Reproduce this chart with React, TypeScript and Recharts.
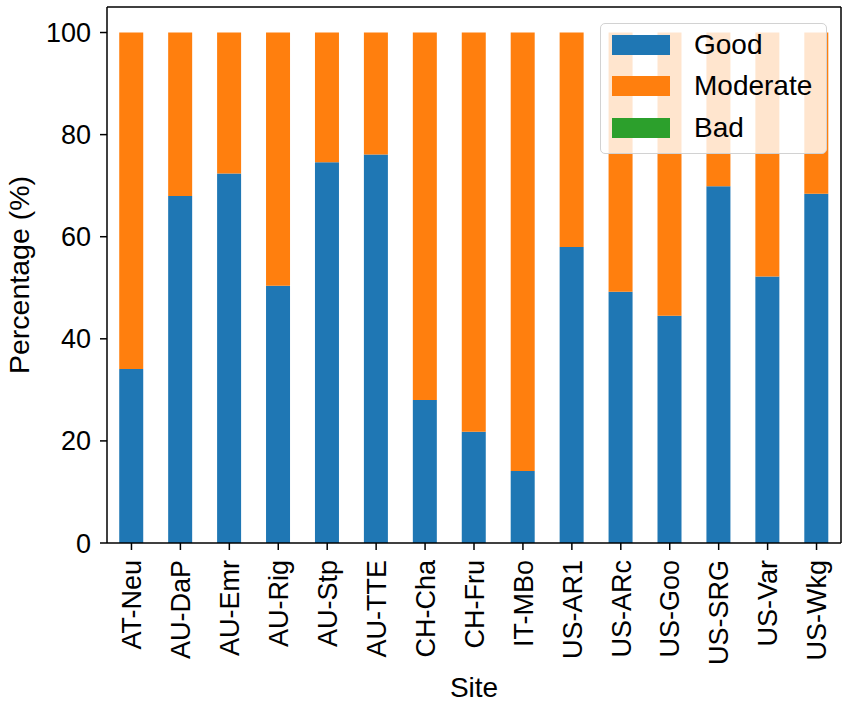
import { Bar, BarChart, Legend, XAxis, YAxis } from "recharts";

const sites = [
  "AT-Neu", "AU-DaP", "AU-Emr", "AU-Rig", "AU-Stp", "AU-TTE", "CH-Cha", "CH-Fru",
  "IT-MBo", "US-AR1", "US-ARc", "US-Goo", "US-SRG", "US-Var", "US-Wkg",
];
const good = [34.1, 68.0, 72.4, 50.4, 74.6, 76.1, 28.0, 21.8, 14.1, 58.0, 49.2, 44.5, 69.9, 52.2, 68.4];
const moderate = [65.9, 32.0, 27.6, 49.6, 25.4, 23.9, 72.0, 78.2, 85.9, 42.0, 50.8, 55.5, 30.1, 47.8, 31.6];
const bad = [0, 0, 0, 0, 0, 0, 0, 0, 0, 0, 0, 0, 0, 0, 0];
const yTicks = [0, 20, 40, 60, 80, 100];
const seriesOrder = ["Good", "Moderate", "Bad"];

const data = sites.map((site, i) => ({ site, Good: good[i], Moderate: moderate[i], Bad: bad[i] }));

const FONT = '"Liberation Sans", Arial, sans-serif';
const axisLine = { stroke: "#000", strokeWidth: 1.5 };

function SiteTick({ x, y, payload }: any) {
  return (
    <g transform={`translate(${x},${y})`}>
      <text
        transform="rotate(-90)"
        x={-6}
        dy="0.36em"
        textAnchor="end"
        fontSize={27}
        fontFamily={FONT}
        fill="#000"
      >
        {payload.value}
      </text>
    </g>
  );
}

function LegendBox({ payload }: any) {
  const items = [...(payload || [])].sort(
    (a: any, b: any) => seriesOrder.indexOf(a.value) - seriesOrder.indexOf(b.value)
  );
  return (
    <div
      style={{
        background: "rgba(255,255,255,0.8)",
        border: "1.5px solid #d2d2d2",
        borderRadius: 5,
        boxSizing: "border-box",
        width: 227,
        height: 131,
        fontFamily: FONT,
      }}
    >
      {items.map((entry: any) => (
        <div key={entry.value} style={{ display: "flex", alignItems: "center", height: 41.5 }}>
          <span
            style={{ width: 58, height: 20, background: entry.color, marginLeft: 11, marginRight: 24 }}
          />
          <span style={{ fontSize: 28, color: "#000" }}>{entry.value}</span>
        </div>
      ))}
    </div>
  );
}

export default function App() {
  return (
    <div style={{ position: "absolute", left: 0, top: 0, width: 851, height: 707, background: "#fff" }}>
      <BarChart
        width={851}
        height={707}
        data={data}
        margin={{ top: 6, right: 9, left: 0, bottom: 0 }}
        barCategoryGap="25%"
        style={{ fontFamily: FONT }}
      >
        <XAxis
          dataKey="site"
          height={164}
          axisLine={axisLine}
          tickLine={axisLine}
          tickSize={7}
          tickMargin={4}
          interval={0}
          tick={<SiteTick />}
          label={{
            content: ({ viewBox }: any) => (
              <text
                x={viewBox.x + viewBox.width / 2}
                y={697}
                textAnchor="middle"
                fontSize={28}
                fontFamily={FONT}
                fill="#000"
              >
                Site
              </text>
            ),
          }}
        />
        <XAxis
          xAxisId="top"
          orientation="top"
          dataKey="site"
          height={1}
          tick={false}
          tickLine={false}
          axisLine={axisLine}
        />
        <YAxis
          width={107}
          domain={[0, 105]}
          ticks={yTicks}
          axisLine={axisLine}
          tickLine={axisLine}
          tickSize={7}
          tickMargin={9}
          tick={{ fontSize: 27, fill: "#000", fontFamily: FONT }}
          label={{
            content: ({ viewBox }: any) => {
              const cx = viewBox.x + 29;
              const cy = viewBox.y + viewBox.height / 2;
              return (
                <text
                  x={cx}
                  y={cy}
                  transform={`rotate(-90 ${cx} ${cy})`}
                  textAnchor="middle"
                  fontSize={28.5}
                  fontFamily={FONT}
                  fill="#000"
                >
                  Percentage (%)
                </text>
              );
            },
          }}
        />
        <YAxis
          yAxisId="right"
          orientation="right"
          width={1}
          domain={[0, 105]}
          tick={false}
          tickLine={false}
          axisLine={axisLine}
        />
        <Legend
          layout="horizontal"
          verticalAlign="middle"
          align="center"
          content={<LegendBox />}
          wrapperStyle={{ position: "absolute", left: 600, top: 23, width: 227, height: 131 }}
        />
        <Bar dataKey="Good" stackId="a" fill="#1f77b4" isAnimationActive={false} />
        <Bar dataKey="Moderate" stackId="a" fill="#ff7f0e" isAnimationActive={false} />
        <Bar dataKey="Bad" stackId="a" fill="#2ca02c" isAnimationActive={false} />
      </BarChart>
    </div>
  );
}
